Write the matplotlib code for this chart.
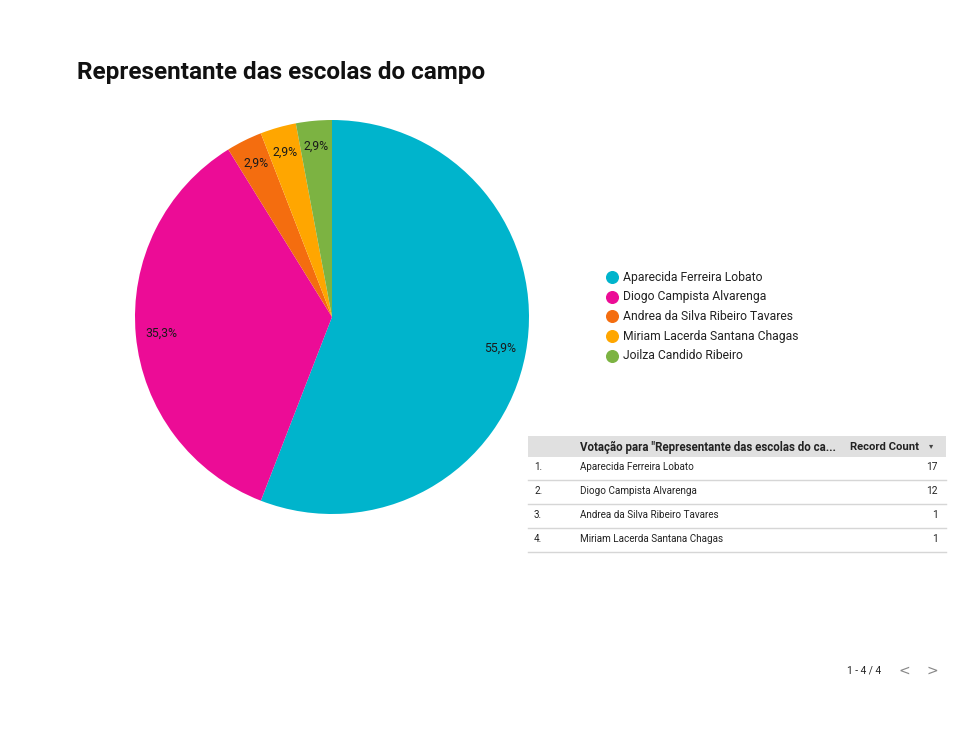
import matplotlib.pyplot as plt
from matplotlib.patches import Rectangle

plt.rcParams['font.family'] = ['Roboto', 'DejaVu Sans']

# pie data
candidates = ['Aparecida Ferreira Lobato', 'Diogo Campista Alvarenga',
              'Andrea da Silva Ribeiro Tavares', 'Miriam Lacerda Santana Chagas',
              'Joilza Candido Ribeiro']
votes = [19, 12, 1, 1, 1]
colors = ['#00b4cc', '#ec0c96', '#f46d0f', '#ffa600', '#7cb342']

# table data (as shown)
table_names = candidates[:4]
table_counts = [17, 12, 1, 1]
header_dim = 'Votação para "Representante das escolas do ca...'
header_metric = 'Record Count'

W, H = 980, 735
fig = plt.figure(figsize=(W / 100, H / 100), dpi=100)

# pie axes placed in pixel terms
cx, cy, r = 332, 317, 197
ax = fig.add_axes([(cx - r) / W, (H - cy - r) / H, 2 * r / W, 2 * r / H])


def pct(p):
    return f'{p:.1f}%'.replace('.', ',')


wedges, texts, autotexts = ax.pie(
    votes, colors=colors, startangle=90, counterclock=False,
    autopct=pct, pctdistance=0.87, radius=1,
    wedgeprops=dict(linewidth=0),
    textprops=dict(fontsize=8.8, color='#1a1a1a'))
ax.set_xlim(-1, 1)
ax.set_ylim(-1, 1)
ax.set_aspect('equal')

# overlay for text layout in pixel coordinates
ov = fig.add_axes([0, 0, 1, 1], zorder=-1)
ov.set_xlim(0, W)
ov.set_ylim(H, 0)
ov.axis('off')

ov.text(77, 72, 'Representante das escolas do campo', fontsize=17.5,
        fontweight='bold', color='#111111', va='center', ha='left')

# legend
for i, (name, col) in enumerate(zip(candidates, colors)):
    y = 277 + i * 19.7
    ov.scatter([612], [y], s=70, color=col, zorder=3)
    ov.text(623, y, name, fontsize=8.7, color='#222222', va='center', ha='left')

# table
ov.add_patch(Rectangle((528, 436), 418, 21, facecolor='#e0e0e0', edgecolor='none'))
ov.text(580, 447, header_dim, fontsize=8.3, fontweight='bold', color='#222222',
        va='center', ha='left')
ov.text(919, 447, header_metric, fontsize=8.1, fontweight='bold', color='#222222',
        va='center', ha='right')
ov.text(931, 446, '▾', fontsize=6, color='#444444', va='center', ha='center',
        family=['DejaVu Sans'])
for i, (name, cnt) in enumerate(zip(table_names, table_counts)):
    y = 467 + i * 24
    ov.text(534, y, f'{i + 1}.', fontsize=7.1, color='#222222', va='center')
    ov.text(580, y, name, fontsize=7.1, color='#222222', va='center')
    ov.text(938, y, str(cnt), fontsize=7.3, color='#222222', va='center', ha='right')
    ov.plot([528, 946], [y + 13, y + 13], color='#d6d6d6', lw=1)

# pagination
ov.text(881, 671, '1 - 4 / 4', fontsize=7.3, color='#222222', va='center', ha='right')
ov.text(904, 671, '<', fontsize=10, color='#888888', va='center', ha='center',
        family=['DejaVu Sans'])
ov.text(932, 671, '>', fontsize=10, color='#888888', va='center', ha='center',
        family=['DejaVu Sans'])

fig.savefig('out.png', dpi=100, facecolor='white')
